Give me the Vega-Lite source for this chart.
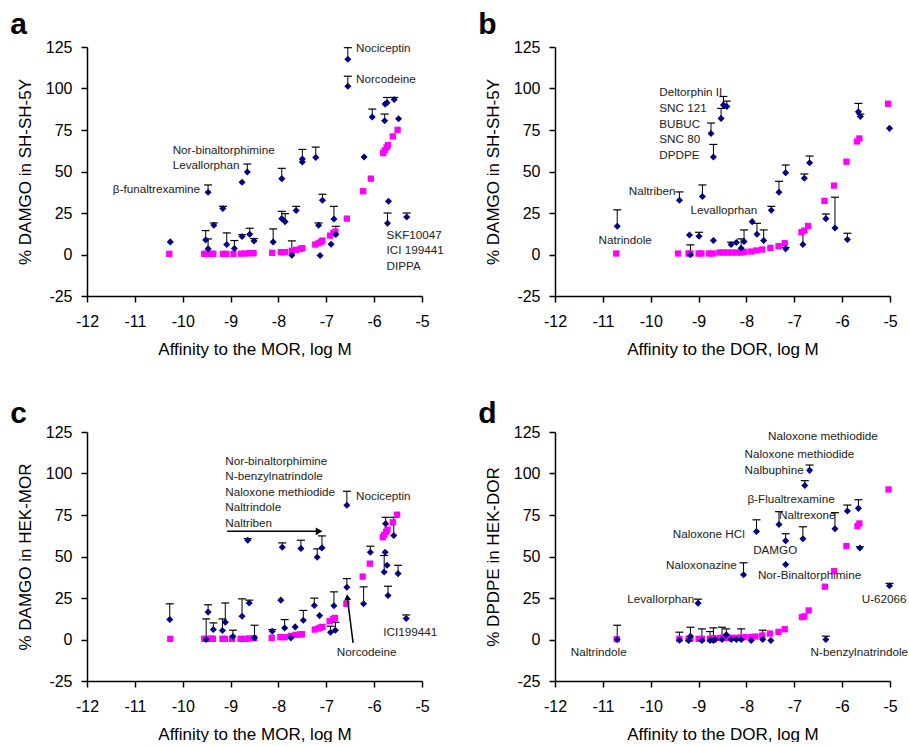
{
"$schema":"https://vega.github.io/schema/vega-lite/v6.json",
"padding":{"left":10,"top":10,"right":0,"bottom":0},
"background":"white",
"config":{"view":{"stroke":null},"font":"Liberation Sans",
"axis":{"grid":false,"labelFlush":false,"domainColor":"black","domainWidth":1.5,"tickColor":"black","tickWidth":1.5,"tickSize":6,"labelFont":"Liberation Sans","labelFontSize":16,"labelColor":"black","titleFont":"Liberation Sans","titleFontSize":17,"titleFontWeight":"normal","titleColor":"black"},
"axisX":{"labelPadding":11,"titlePadding":12},
"axisY":{"labelPadding":9,"titlePadding":11},
"title":{"anchor":"start","frame":"bounds","fontSize":30,"fontWeight":"bold","font":"Liberation Sans","color":"black","offset":-1,"dx":-6}},
"columns":2,
"bounds":"flush",
"spacing":{"row":136,"column":133},
"datasets":{
"a_pts":[{"x":-10.26,"y":7.6,"top":null},{"x":-9.47,"y":37.5,"top":41.9},{"x":-9.35,"y":17.6,"top":19.0},{"x":-9.52,"y":8.8,"top":14.4},{"x":-9.47,"y":3.4,"top":9.4},{"x":-9.16,"y":27.7,"top":29.0},{"x":-9.08,"y":6.0,"top":13.0},{"x":-8.92,"y":3.6,"top":8.4},{"x":-8.76,"y":43.5,"top":null},{"x":-8.65,"y":49.7,"top":54.5},{"x":-8.76,"y":10.8,"top":12.0},{"x":-8.6,"y":12.2,"top":15.8},{"x":-8.51,"y":8.2,"top":9.6},{"x":-8.11,"y":7.6,"top":15.4},{"x":-7.93,"y":45.7,"top":51.9},{"x":-7.93,"y":21.6,"top":26.0},{"x":-7.86,"y":19.8,"top":24.6},{"x":-7.72,"y":-0.4,"top":8.2},{"x":-7.63,"y":26.5,"top":29.0},{"x":-7.5,"y":55.7,"top":63.3},{"x":-7.5,"y":57.5,"top":null},{"x":-7.22,"y":58.5,"top":64.7},{"x":-7.16,"y":17.6,"top":19.0},{"x":-7.13,"y":-0.6,"top":null},{"x":-7.08,"y":32.7,"top":36.3},{"x":-6.9,"y":6.2,"top":null},{"x":-6.84,"y":21.4,"top":29.0},{"x":-6.8,"y":12.0,"top":17.0},{"x":-6.55,"y":117.6,"top":124.6},{"x":-6.55,"y":101.4,"top":107.4},{"x":-6.21,"y":58.7,"top":null},{"x":-6.04,"y":82.8,"top":87.6},{"x":-5.78,"y":80.6,"top":84.6},{"x":-5.77,"y":90.6,"top":null},{"x":-5.73,"y":91.4,"top":94.6},{"x":-5.58,"y":93.4,"top":94.6},{"x":-5.49,"y":81.8,"top":null},{"x":-5.7,"y":32.1,"top":null},{"x":-5.72,"y":18.8,"top":25.0},{"x":-5.32,"y":22.6,"top":25.0}],
"a_fit":[{"x":-10.28,"y":0.4},{"x":-9.55,"y":0.4},{"x":-9.5,"y":0.4},{"x":-9.45,"y":0.4},{"x":-9.4,"y":0.4},{"x":-9.36,"y":0.4},{"x":-9.16,"y":0.4},{"x":-9.09,"y":0.4},{"x":-8.94,"y":0.4},{"x":-8.78,"y":0.5},{"x":-8.69,"y":0.6},{"x":-8.6,"y":0.8},{"x":-8.52,"y":0.8},{"x":-8.13,"y":1.0},{"x":-7.95,"y":1.4},{"x":-7.86,"y":1.4},{"x":-7.72,"y":2.2},{"x":-7.63,"y":2.8},{"x":-7.54,"y":3.4},{"x":-7.5,"y":3.8},{"x":-7.23,"y":6.0},{"x":-7.16,"y":6.8},{"x":-7.11,"y":7.6},{"x":-7.08,"y":8.4},{"x":-6.92,"y":11.4},{"x":-6.85,"y":13.0},{"x":-6.81,"y":13.8},{"x":-6.57,"y":21.6},{"x":-6.23,"y":38.1},{"x":-6.07,"y":45.7},{"x":-5.81,"y":61.1},{"x":-5.78,"y":62.7},{"x":-5.74,"y":64.5},{"x":-5.71,"y":65.9},{"x":-5.61,"y":71.1},{"x":-5.51,"y":75.1}],
"a_lab":[{"x":-6.38,"y":124.6,"label":"Nociceptin"},{"x":-6.38,"y":105.8,"label":"Norcodeine"},{"x":-10.21,"y":63.1,"label":"Nor-binaltorphimine"},{"x":-10.21,"y":54.1,"label":"Levallorphan"},{"x":-11.46,"y":39.7,"label":"β-funaltrexamine"},{"x":-5.74,"y":12.0,"label":"SKF10047"},{"x":-5.74,"y":2.6,"label":"ICI 199441"},{"x":-5.74,"y":-7.0,"label":"DIPPA"}],
"b_pts":[{"x":-10.7,"y":17.0,"top":26.9},{"x":-9.4,"y":32.7,"top":37.7},{"x":-9.19,"y":11.8,"top":null},{"x":-9.17,"y":-0.2,"top":5.8},{"x":-8.99,"y":11.0,"top":13.4},{"x":-8.92,"y":34.9,"top":41.9},{"x":-8.74,"y":72.9,"top":79.2},{"x":-8.69,"y":58.7,"top":66.3},{"x":-8.69,"y":8.4,"top":null},{"x":-8.53,"y":82.0,"top":88.0},{"x":-8.48,"y":90.0,"top":95.2},{"x":-8.41,"y":89.2,"top":92.4},{"x":-8.32,"y":6.0,"top":7.4},{"x":-8.21,"y":7.2,"top":null},{"x":-8.11,"y":3.8,"top":9.4},{"x":-8.05,"y":7.8,"top":14.8},{"x":-7.88,"y":19.8,"top":null},{"x":-7.78,"y":12.2,"top":18.8},{"x":-7.64,"y":8.4,"top":14.8},{"x":-7.48,"y":26.7,"top":29.0},{"x":-7.32,"y":37.5,"top":44.1},{"x":-7.18,"y":49.3,"top":53.9},{"x":-7.18,"y":3.4,"top":4.2},{"x":-6.79,"y":45.9,"top":48.5},{"x":-6.82,"y":6.0,"top":14.0},{"x":-6.68,"y":55.3,"top":59.3},{"x":-6.34,"y":21.6,"top":24.4},{"x":-6.15,"y":16.0,"top":34.5},{"x":-5.89,"y":9.0,"top":12.8},{"x":-5.66,"y":86.0,"top":91.0},{"x":-5.62,"y":83.2,"top":84.6},{"x":-5.01,"y":76.0,"top":null}],
"b_fit":[{"x":-10.72,"y":0.6},{"x":-9.43,"y":0.6},{"x":-9.21,"y":0.6},{"x":-9.17,"y":0.6},{"x":-9.0,"y":0.6},{"x":-8.94,"y":0.6},{"x":-8.78,"y":0.6},{"x":-8.69,"y":0.6},{"x":-8.56,"y":1.2},{"x":-8.48,"y":1.2},{"x":-8.39,"y":1.2},{"x":-8.3,"y":1.2},{"x":-8.2,"y":1.2},{"x":-8.11,"y":1.2},{"x":-8.04,"y":1.6},{"x":-7.9,"y":1.8},{"x":-7.79,"y":2.4},{"x":-7.67,"y":3.0},{"x":-7.5,"y":4.0},{"x":-7.33,"y":5.0},{"x":-7.2,"y":6.8},{"x":-6.85,"y":13.4},{"x":-6.79,"y":14.4},{"x":-6.71,"y":17.2},{"x":-6.37,"y":32.3},{"x":-6.17,"y":41.5},{"x":-5.91,"y":55.9},{"x":-5.69,"y":68.1},{"x":-5.64,"y":69.9},{"x":-5.04,"y":90.8}],
"b_lab":[{"x":-9.82,"y":97.6,"label":"Deltorphin II"},{"x":-9.82,"y":88.0,"label":"SNC 121"},{"x":-9.82,"y":78.6,"label":"BUBUC"},{"x":-9.82,"y":69.3,"label":"SNC 80"},{"x":-9.82,"y":59.9,"label":"DPDPE"},{"x":-10.46,"y":38.1,"label":"Naltriben"},{"x":-9.17,"y":26.7,"label":"Levalloprhan"},{"x":-11.09,"y":8.6,"label":"Natrindole"}],
"c_pts":[{"x":-10.27,"y":12.0,"top":21.5},{"x":-9.47,"y":16.5,"top":20.9},{"x":-9.51,"y":0.0,"top":12.4},{"x":-9.36,"y":6.0,"top":10.0},{"x":-9.17,"y":5.4,"top":12.4},{"x":-9.11,"y":10.4,"top":22.0},{"x":-8.95,"y":1.8,"top":5.6},{"x":-8.76,"y":14.0,"top":24.5},{"x":-8.64,"y":59.8,"top":60.8},{"x":-8.61,"y":22.0,"top":23.7},{"x":-8.5,"y":1.0,"top":8.6},{"x":-8.13,"y":5.0,"top":6.0},{"x":-7.92,"y":55.6,"top":58.2},{"x":-7.95,"y":23.7,"top":null},{"x":-7.87,"y":7.0,"top":12.0},{"x":-7.74,"y":1.0,"top":null},{"x":-7.65,"y":7.6,"top":null},{"x":-7.53,"y":54.8,"top":59.8},{"x":-7.48,"y":11.6,"top":17.5},{"x":-7.25,"y":20.5,"top":24.9},{"x":-7.19,"y":49.6,"top":54.6},{"x":-7.14,"y":14.4,"top":null},{"x":-7.09,"y":55.2,"top":62.4},{"x":-6.91,"y":4.4,"top":8.0},{"x":-6.84,"y":20.3,"top":28.7},{"x":-6.81,"y":5.6,"top":10.4},{"x":-6.57,"y":80.9,"top":89.3},{"x":-6.57,"y":31.5,"top":36.7},{"x":-6.22,"y":21.5,"top":31.7},{"x":-6.08,"y":52.6,"top":56.2},{"x":-5.79,"y":40.7,"top":50.6},{"x":-5.77,"y":52.6,"top":null},{"x":-5.76,"y":69.8,"top":73.6},{"x":-5.73,"y":44.7,"top":null},{"x":-5.71,"y":26.5,"top":32.1},{"x":-5.59,"y":62.6,"top":73.6},{"x":-5.5,"y":39.7,"top":44.7},{"x":-5.33,"y":12.6,"top":14.8}],
"c_fit":[{"x":-10.26,"y":0.4},{"x":-9.55,"y":0.4},{"x":-9.5,"y":0.4},{"x":-9.45,"y":0.4},{"x":-9.41,"y":0.4},{"x":-9.37,"y":0.4},{"x":-9.17,"y":0.4},{"x":-9.12,"y":0.4},{"x":-8.97,"y":0.4},{"x":-8.79,"y":0.4},{"x":-8.69,"y":0.4},{"x":-8.61,"y":0.6},{"x":-8.51,"y":0.8},{"x":-8.14,"y":1.0},{"x":-7.96,"y":1.4},{"x":-7.87,"y":1.4},{"x":-7.74,"y":2.2},{"x":-7.64,"y":2.8},{"x":-7.55,"y":3.0},{"x":-7.51,"y":3.2},{"x":-7.24,"y":6.0},{"x":-7.17,"y":6.6},{"x":-7.12,"y":7.2},{"x":-7.08,"y":7.6},{"x":-6.93,"y":11.0},{"x":-6.86,"y":12.4},{"x":-6.82,"y":13.0},{"x":-6.58,"y":21.5},{"x":-6.24,"y":37.9},{"x":-6.09,"y":45.7},{"x":-5.82,"y":61.6},{"x":-5.79,"y":63.0},{"x":-5.75,"y":64.8},{"x":-5.72,"y":66.2},{"x":-5.61,"y":70.6},{"x":-5.52,"y":75.2}],
"c_lab":[{"x":-9.11,"y":107.7,"label":"Nor-binaltorphimine"},{"x":-9.11,"y":98.3,"label":"N-benzylnatrindole"},{"x":-9.11,"y":89.1,"label":"Naloxone methiodide"},{"x":-9.11,"y":79.7,"label":"Naltrindole"},{"x":-9.11,"y":70.0,"label":"Naltriben"},{"x":-6.38,"y":86.3,"label":"Nociceptin"},{"x":-5.81,"y":4.4,"label":"ICI199441"},{"x":-6.78,"y":-7.6,"label":"Norcodeine"}],
"c_arrows":[{"x":-9.07,"y":65.2,"x2":-7.16,"y2":65.2},{"x":-6.44,"y":-2.0,"x2":-6.555,"y2":24.0}],
"d_pts":[{"x":-10.7,"y":0.0,"top":8.6},{"x":-9.4,"y":-0.4,"top":4.4},{"x":-9.17,"y":2.0,"top":7.4},{"x":-9.21,"y":-0.6,"top":null},{"x":-9.01,"y":21.9,"top":24.3},{"x":-8.93,"y":-0.6,"top":6.4},{"x":-8.76,"y":-0.6,"top":4.8},{"x":-8.69,"y":-0.6,"top":7.0},{"x":-8.65,"y":0.0,"top":null},{"x":-8.51,"y":0.0,"top":7.4},{"x":-8.42,"y":2.8,"top":6.4},{"x":-8.32,"y":0.0,"top":null},{"x":-8.21,"y":0.0,"top":null},{"x":-8.11,"y":0.0,"top":6.4},{"x":-8.06,"y":39.0,"top":46.2},{"x":-7.9,"y":-0.6,"top":null},{"x":-7.79,"y":65.1,"top":72.1},{"x":-7.66,"y":0.0,"top":5.6},{"x":-7.49,"y":-0.6,"top":null},{"x":-7.32,"y":69.3,"top":77.0},{"x":-7.18,"y":59.5,"top":63.7},{"x":-7.18,"y":45.2,"top":null},{"x":-6.82,"y":60.7,"top":67.9},{"x":-6.78,"y":92.8,"top":95.7},{"x":-6.68,"y":101.9,"top":105.1},{"x":-6.34,"y":0.0,"top":2.0},{"x":-6.15,"y":66.7,"top":76.4},{"x":-5.89,"y":77.4,"top":81.0},{"x":-5.66,"y":79.0,"top":84.2},{"x":-5.63,"y":55.1,"top":55.9},{"x":-5.01,"y":32.4,"top":33.8}],
"d_fit":[{"x":-10.71,"y":0.2},{"x":-9.4,"y":0.4},{"x":-9.21,"y":0.4},{"x":-9.17,"y":0.4},{"x":-9.0,"y":0.4},{"x":-8.93,"y":0.4},{"x":-8.76,"y":0.4},{"x":-8.69,"y":0.8},{"x":-8.55,"y":1.0},{"x":-8.48,"y":1.0},{"x":-8.39,"y":1.0},{"x":-8.3,"y":1.0},{"x":-8.2,"y":1.0},{"x":-8.11,"y":1.2},{"x":-8.04,"y":1.4},{"x":-7.9,"y":1.4},{"x":-7.81,"y":1.8},{"x":-7.67,"y":2.4},{"x":-7.51,"y":3.6},{"x":-7.33,"y":4.6},{"x":-7.2,"y":6.2},{"x":-6.84,"y":13.5},{"x":-6.79,"y":13.9},{"x":-6.7,"y":17.5},{"x":-6.36,"y":31.8},{"x":-6.17,"y":41.2},{"x":-5.91,"y":56.3},{"x":-5.68,"y":68.3},{"x":-5.64,"y":69.9},{"x":-5.03,"y":90.4}],
"d_lab":[{"x":-7.55,"y":122.6,"label":"Naloxone methiodide"},{"x":-8.04,"y":111.7,"label":"Naloxone methiodide"},{"x":-8.04,"y":102.1,"label":"Nalbuphine"},{"x":-7.98,"y":84.4,"label":"β-Flualtrexamine"},{"x":-7.32,"y":74.8,"label":"Naltrexone"},{"x":-9.54,"y":63.3,"label":"Naloxone HCl"},{"x":-7.86,"y":53.9,"label":"DAMGO"},{"x":-9.68,"y":44.8,"label":"Naloxonazine"},{"x":-7.76,"y":38.8,"label":"Nor-Binaltorphimine"},{"x":-10.49,"y":24.1,"label":"Levallorphan"},{"x":-5.59,"y":24.3,"label":"U-62066"},{"x":-11.67,"y":-7.6,"label":"Naltrindole"},{"x":-6.66,"y":-7.6,"label":"N-benzylnatrindole"}]
},
"concat":[
{"width":335,"height":249,"title":{"text":"a"},
"encoding":{"x":{"field":"x","type":"quantitative","scale":{"domain":[-12,-5],"nice":false,"zero":false},"axis":{"title":"Affinity to the MOR, log M","values":[-12,-11,-10,-9,-8,-7,-6,-5],"labelExpr":"'' + datum.value"}},
"y":{"field":"y","type":"quantitative","scale":{"domain":[-25,125],"nice":false,"zero":false},"axis":{"title":"% DAMGO in SH-SH-5Y","values":[-25,0,25,50,75,100,125],"labelExpr":"'' + datum.value"}}},
"layer":[
{"data":{"name":"a_pts"},"transform":[{"filter":"isValid(datum.top)"}],"mark":{"type":"rule","color":"black","strokeWidth":1},"encoding":{"y2":{"field":"top"}}},
{"data":{"name":"a_pts"},"transform":[{"filter":"isValid(datum.top)"}],"mark":{"type":"rule","color":"black","strokeWidth":1.2,"xOffset":-4,"x2Offset":4},"encoding":{"y":{"field":"top","type":"quantitative","axis":{"title":"% DAMGO in SH-SH-5Y","values":[-25,0,25,50,75,100,125],"labelExpr":"'' + datum.value"}},"x2":{"field":"x"}}},
{"data":{"name":"a_fit"},"mark":{"type":"point","shape":"square","filled":true,"color":"#ff00ff","size":40,"opacity":1}},
{"data":{"name":"a_pts"},"mark":{"type":"point","shape":"diamond","filled":true,"color":"#000080","size":50,"opacity":1}},
{"data":{"name":"a_lab"},"mark":{"type":"text","align":"left","baseline":"middle","fontSize":11.7,"color":"#222"},"encoding":{"text":{"field":"label"}}}
]},
{"width":335,"height":249,"title":{"text":"b"},
"encoding":{"x":{"field":"x","type":"quantitative","scale":{"domain":[-12,-5],"nice":false,"zero":false},"axis":{"title":"Affinity to the DOR, log M","values":[-12,-11,-10,-9,-8,-7,-6,-5],"labelExpr":"'' + datum.value"}},
"y":{"field":"y","type":"quantitative","scale":{"domain":[-25,125],"nice":false,"zero":false},"axis":{"title":"% DAMGO in SH-SH-5Y","values":[-25,0,25,50,75,100,125],"labelExpr":"'' + datum.value"}}},
"layer":[
{"data":{"name":"b_pts"},"transform":[{"filter":"isValid(datum.top)"}],"mark":{"type":"rule","color":"black","strokeWidth":1},"encoding":{"y2":{"field":"top"}}},
{"data":{"name":"b_pts"},"transform":[{"filter":"isValid(datum.top)"}],"mark":{"type":"rule","color":"black","strokeWidth":1.2,"xOffset":-4,"x2Offset":4},"encoding":{"y":{"field":"top","type":"quantitative","axis":{"title":"% DAMGO in SH-SH-5Y","values":[-25,0,25,50,75,100,125],"labelExpr":"'' + datum.value"}},"x2":{"field":"x"}}},
{"data":{"name":"b_fit"},"mark":{"type":"point","shape":"square","filled":true,"color":"#ff00ff","size":40,"opacity":1}},
{"data":{"name":"b_pts"},"mark":{"type":"point","shape":"diamond","filled":true,"color":"#000080","size":50,"opacity":1}},
{"data":{"name":"b_lab"},"mark":{"type":"text","align":"left","baseline":"middle","fontSize":11.7,"color":"#222"},"encoding":{"text":{"field":"label"}}}
]},
{"width":335,"height":249,"title":{"text":"c","offset":-5},
"encoding":{"x":{"field":"x","type":"quantitative","scale":{"domain":[-12,-5],"nice":false,"zero":false},"axis":{"title":"Affinity to the MOR, log M","values":[-12,-11,-10,-9,-8,-7,-6,-5],"labelExpr":"'' + datum.value"}},
"y":{"field":"y","type":"quantitative","scale":{"domain":[-25,125],"nice":false,"zero":false},"axis":{"title":"% DAMGO in HEK-MOR","values":[-25,0,25,50,75,100,125],"labelExpr":"'' + datum.value"}}},
"layer":[
{"data":{"name":"c_pts"},"transform":[{"filter":"isValid(datum.top)"}],"mark":{"type":"rule","color":"black","strokeWidth":1},"encoding":{"y2":{"field":"top"}}},
{"data":{"name":"c_pts"},"transform":[{"filter":"isValid(datum.top)"}],"mark":{"type":"rule","color":"black","strokeWidth":1.2,"xOffset":-4,"x2Offset":4},"encoding":{"y":{"field":"top","type":"quantitative","axis":{"title":"% DAMGO in HEK-MOR","values":[-25,0,25,50,75,100,125],"labelExpr":"'' + datum.value"}},"x2":{"field":"x"}}},
{"data":{"name":"c_fit"},"mark":{"type":"point","shape":"square","filled":true,"color":"#ff00ff","size":40,"opacity":1}},
{"data":{"name":"c_pts"},"mark":{"type":"point","shape":"diamond","filled":true,"color":"#000080","size":50,"opacity":1}},
{"data":{"name":"c_arrows"},"mark":{"type":"rule","color":"black","strokeWidth":1.5},"encoding":{"x2":{"field":"x2"},"y2":{"field":"y2"}}},
{"data":{"values":[{"x":-7.15,"y":65.2}]},"mark":{"type":"point","shape":"triangle-right","filled":true,"color":"black","size":60,"opacity":1}},
{"data":{"values":[{"x":-6.56,"y":25.5}]},"mark":{"type":"point","shape":"triangle-up","filled":true,"color":"black","size":50,"opacity":1,"angle":353}},
{"data":{"name":"c_lab"},"mark":{"type":"text","align":"left","baseline":"middle","fontSize":11.7,"color":"#222"},"encoding":{"text":{"field":"label"}}}
]},
{"width":335,"height":249,"title":{"text":"d","offset":-5},
"encoding":{"x":{"field":"x","type":"quantitative","scale":{"domain":[-12,-5],"nice":false,"zero":false},"axis":{"title":"Affinity to the DOR, log M","values":[-12,-11,-10,-9,-8,-7,-6,-5],"labelExpr":"'' + datum.value"}},
"y":{"field":"y","type":"quantitative","scale":{"domain":[-25,125],"nice":false,"zero":false},"axis":{"title":"% DPDPE in HEK-DOR","values":[-25,0,25,50,75,100,125],"labelExpr":"'' + datum.value"}}},
"layer":[
{"data":{"name":"d_pts"},"transform":[{"filter":"isValid(datum.top)"}],"mark":{"type":"rule","color":"black","strokeWidth":1},"encoding":{"y2":{"field":"top"}}},
{"data":{"name":"d_pts"},"transform":[{"filter":"isValid(datum.top)"}],"mark":{"type":"rule","color":"black","strokeWidth":1.2,"xOffset":-4,"x2Offset":4},"encoding":{"y":{"field":"top","type":"quantitative","axis":{"title":"% DPDPE in HEK-DOR","values":[-25,0,25,50,75,100,125],"labelExpr":"'' + datum.value"}},"x2":{"field":"x"}}},
{"data":{"name":"d_fit"},"mark":{"type":"point","shape":"square","filled":true,"color":"#ff00ff","size":40,"opacity":1}},
{"data":{"name":"d_pts"},"mark":{"type":"point","shape":"diamond","filled":true,"color":"#000080","size":50,"opacity":1}},
{"data":{"name":"d_lab"},"mark":{"type":"text","align":"left","baseline":"middle","fontSize":11.7,"color":"#222"},"encoding":{"text":{"field":"label"}}}
]}
]
}
